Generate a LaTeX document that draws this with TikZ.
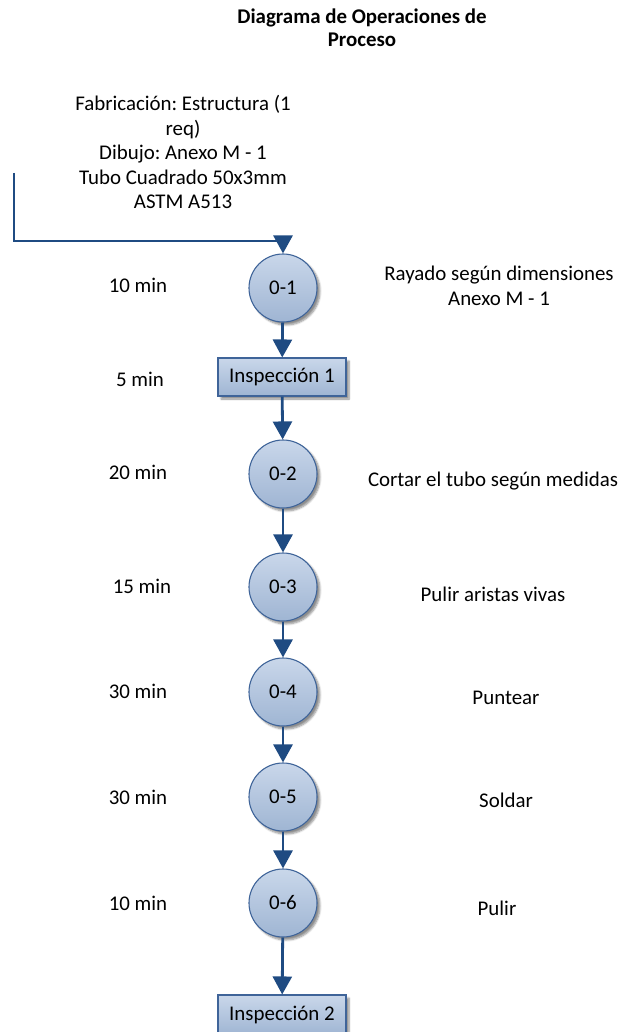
\documentclass[tikz,border=0pt]{standalone}
\usepackage{fontspec}
\setmainfont{Carlito}
\frenchspacing
\usetikzlibrary{arrows.meta,shadows.blur,positioning}
\definecolor{flowline}{HTML}{1F4B82}
\definecolor{shapeedge}{HTML}{3F6499}
\definecolor{filltop}{HTML}{C9D7EA}
\definecolor{fillbot}{HTML}{9FB5D3}
\tikzset{
  base/.style={font=\fontsize{20.9}{24.5}\selectfont, text=black},
  opcircle/.style={base, circle, minimum size=68pt, inner sep=0pt, draw=shapeedge, line width=1.1pt,
    top color=filltop, bottom color=fillbot,
    blur shadow={shadow xshift=3pt, shadow yshift=-3pt, shadow blur steps=6, shadow opacity=45}},
  inspbox/.style={base, rectangle, minimum width=128pt, minimum height=38pt, inner sep=0pt, draw=shapeedge, line width=1.1pt,
    top color=filltop, bottom color=fillbot,
    blur shadow={shadow xshift=3pt, shadow yshift=-3pt, shadow blur steps=6, shadow opacity=45}},
  lbl/.style={base, inner sep=0pt},
  flow/.style={draw=flowline, line width=2.8pt, -{Triangle[length=18pt,width=19pt]}},
}
\begin{document}
\begin{tikzpicture}[x=1pt,y=-1pt]
\useasboundingbox (0,0) rectangle (624,1032);

% heading
\node[lbl, font=\fontsize{20.9}{23}\selectfont\bfseries, align=center] (title) at (362,28)
  {Diagrama de Operaciones de\\Proceso};

% material specification
\node[lbl, align=center] (spec) at (183,152)
  {Fabricación: Estructura (1\\req)\\Dibujo: Anexo M - 1\\Tubo Cuadrado 50x3mm\\ASTM A513};

% operations and inspections
\node[opcircle] (o1) at (283,288) {0-1};
\node[inspbox]  (i1) at (282,377) {Inspección 1};
\node[opcircle] (o2) at (283,474) {0-2};
\node[opcircle] (o3) at (283,587) {0-3};
\node[opcircle] (o4) at (283,692) {0-4};
\node[opcircle] (o5) at (283,797) {0-5};
\node[opcircle] (o6) at (283,903) {0-6};
\node[inspbox, minimum height=40pt]  (i2) at (282,1015) {Inspección 2};

% times
\node[lbl] (t1) at (138,285) {10 min};
\node[lbl] (t2) at (140,379) {5 min};
\node[lbl] (t3) at (138,472) {20 min};
\node[lbl] (t4) at (142,586) {15 min};
\node[lbl] (t5) at (138,691) {30 min};
\node[lbl] (t6) at (138,797) {30 min};
\node[lbl] (t7) at (138,903) {10 min};

% descriptions
\node[lbl, align=center] (d1) at (499,286) {Rayado según dimensiones\\Anexo M - 1};
\node[lbl] (d2) at (493,481) {Cortar el tubo según medidas};
\node[lbl] (d3) at (493,594) {Pulir aristas vivas};
\node[lbl] (d4) at (506,698) {Puntear};
\node[lbl] (d5) at (506,800) {Soldar};
\node[lbl] (d6) at (497,908) {Pulir};

% connectors
\coordinate (start) at (14,173);
\draw[flow] (start) |- (283,241) -- (o1.north);
\draw[flow] (o1) -- (i1);
\draw[flow] (i1) -- (o2);
\draw[flow] (o2) -- (o3);
\draw[flow] (o3) -- (o4);
\draw[flow] (o4) -- (o5);
\draw[flow] (o5) -- (o6);
\draw[flow] (o6) -- (i2);
\end{tikzpicture}
\end{document}
